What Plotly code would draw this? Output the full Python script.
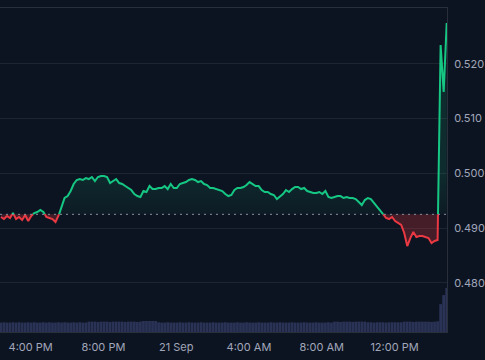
import plotly.graph_objects as go
import pandas as pd

# ---- data ----
start_time = "2023-09-20 14:22"
interval = "10min"

price = [
    0.49201, 0.49164, 0.49219, 0.49183, 0.49274, 0.49164, 0.49201, 0.49146, 0.49237, 0.49128,
    0.49219, 0.49274, 0.49292, 0.49329, 0.49292, 0.49201, 0.49183, 0.49164, 0.49110, 0.49219,
    0.49402, 0.49548, 0.49584, 0.49676, 0.49804, 0.49877, 0.49895, 0.49877, 0.49913, 0.49895,
    0.49932, 0.49858, 0.49932, 0.49950, 0.49950, 0.49932, 0.49822, 0.49858, 0.49895, 0.49822,
    0.49804, 0.49767, 0.49731, 0.49694, 0.49621, 0.49584, 0.49566, 0.49676, 0.49658, 0.49767,
    0.49712, 0.49712, 0.49731, 0.49731, 0.49767, 0.49712, 0.49804, 0.49731, 0.49731, 0.49804,
    0.49822, 0.49840, 0.49877, 0.49895, 0.49877, 0.49840, 0.49858, 0.49804, 0.49785, 0.49731,
    0.49731, 0.49712, 0.49694, 0.49676, 0.49621, 0.49584, 0.49603, 0.49694, 0.49731, 0.49731,
    0.49749, 0.49785, 0.49840, 0.49804, 0.49767, 0.49767, 0.49694, 0.49658, 0.49658, 0.49621,
    0.49603, 0.49530, 0.49584, 0.49621, 0.49694, 0.49658, 0.49712, 0.49749, 0.49749, 0.49712,
    0.49731, 0.49676, 0.49658, 0.49639, 0.49639, 0.49658, 0.49621, 0.49676, 0.49566, 0.49548,
    0.49566, 0.49584, 0.49584, 0.49548, 0.49566, 0.49548, 0.49548, 0.49530, 0.49475, 0.49420,
    0.49511, 0.49548, 0.49530, 0.49457, 0.49384, 0.49329, 0.49256, 0.49183, 0.49164, 0.49201,
    0.49128, 0.49091, 0.49055, 0.48909, 0.48671, 0.48817, 0.48927, 0.48836, 0.48854, 0.48854,
    0.48836, 0.48817, 0.48726, 0.48763, 0.48781, 0.52342, 0.51484, 0.52744,
]

volume = [
    29, 30, 29, 29, 30, 29, 30, 29, 29, 30,
    29, 30, 29, 29, 30, 29, 30, 29, 29, 30,
    29, 30, 29, 29, 30, 29, 30, 29, 29, 32,
    32, 32, 31, 32, 32, 32, 31, 32, 32, 32,
    32, 31, 32, 32, 32, 31, 32, 34, 34, 34,
    34, 34, 30, 29, 29, 30, 29, 29, 29, 30,
    29, 29, 30, 29, 29, 29, 30, 29, 29, 29,
    30, 29, 29, 29, 30, 29, 29, 29, 30, 29,
    29, 30, 29, 29, 29, 30, 29, 29, 29, 30,
    29, 29, 30, 29, 29, 29, 30, 29, 29, 29,
    30, 29, 29, 29, 30, 29, 29, 29, 30, 29,
    32, 32, 31, 32, 32, 32, 31, 32, 32, 32,
    32, 30, 30, 29, 30, 30, 30, 29, 30, 30,
    30, 30, 30, 32, 32, 32, 31, 32, 32, 32,
    32, 32, 31, 32, 33, 86, 114, 136,
]

baseline_price = 0.4925

x_tick_vals = ["2023-09-20 16:00", "2023-09-20 20:00", "2023-09-21 00:00",
               "2023-09-21 04:00", "2023-09-21 08:00", "2023-09-21 12:00"]
x_tick_text = ["4:00 PM", "8:00 PM", "21 Sep", "4:00 AM", "8:00 AM", "12:00 PM"]
y_tick_vals = [0.48, 0.49, 0.50, 0.51, 0.52]

# ---- styling ----
BG = "#0d1421"
GREEN = "#16c784"
RED = "#ea3943"
GRID = "#1f2431"
BORDER = "#2a2f3c"
TEXT = "#a1a7bb"
VOL = "#2a3356"

times = pd.date_range(start_time, periods=len(price), freq=interval)

# insert baseline crossings so colour switches exactly at the baseline
xs, ys = [], []
for k in range(len(price)):
    if k > 0:
        p0, p1 = price[k - 1], price[k]
        if (p0 - baseline_price) * (p1 - baseline_price) < 0:
            f = (baseline_price - p0) / (p1 - p0)
            xs.append(times[k - 1] + (times[k] - times[k - 1]) * f)
            ys.append(baseline_price)
    xs.append(times[k])
    ys.append(price[k])

green_line = [y if y >= baseline_price else None for y in ys]
red_line = [y if y <= baseline_price else None for y in ys]
green_fill = [max(y, baseline_price) for y in ys]
red_fill = [min(y, baseline_price) for y in ys]
base_arr = [baseline_price] * len(xs)

fig = go.Figure()

fig.add_trace(go.Bar(x=times, y=volume, marker=dict(color=VOL, line=dict(width=0)),
                     yaxis="y2", showlegend=False, hoverinfo="skip"))

fig.add_trace(go.Scatter(x=xs, y=base_arr, mode="lines", line=dict(width=0),
                         showlegend=False, hoverinfo="skip"))
fig.add_trace(go.Scatter(x=xs, y=green_fill, mode="lines", line=dict(width=0),
                         fill="tonexty",
                         fillgradient=dict(type="vertical", start=baseline_price, stop=0.5,
                                           colorscale=[[0, "rgba(22,199,132,0.04)"],
                                                       [1, "rgba(22,199,132,0.13)"]]),
                         showlegend=False, hoverinfo="skip"))
fig.add_trace(go.Scatter(x=xs, y=base_arr, mode="lines", line=dict(width=0),
                         showlegend=False, hoverinfo="skip"))
fig.add_trace(go.Scatter(x=xs, y=red_fill, mode="lines", line=dict(width=0),
                         fill="tonexty", fillcolor="rgba(234,57,67,0.25)",
                         showlegend=False, hoverinfo="skip"))

fig.add_trace(go.Scatter(x=xs, y=green_line, mode="lines", connectgaps=False,
                         line=dict(color=GREEN, width=2), showlegend=False))
fig.add_trace(go.Scatter(x=xs, y=red_line, mode="lines", connectgaps=False,
                         line=dict(color=RED, width=2), showlegend=False))

fig.add_shape(type="line", xref="paper", x0=0, x1=1, yref="y",
              y0=baseline_price, y1=baseline_price,
              line=dict(color="#8a90a0", width=1, dash="2px,4px"))

fig.update_layout(
    width=485, height=360,
    margin=dict(l=0, r=31, t=8, b=28),
    paper_bgcolor=BG, plot_bgcolor=BG,
    font=dict(family="Inter, sans-serif", size=11, color=TEXT),
    bargap=0.1,
    xaxis=dict(type="date", range=["2023-09-20 14:19", "2023-09-21 14:53"],
               tickvals=x_tick_vals, ticktext=x_tick_text,
               showgrid=False, zeroline=False, showline=True, mirror=True,
               linecolor=BORDER, linewidth=1, ticks="", ticklabelstandoff=5),
    yaxis=dict(side="right", range=[0.4710, 0.5302], tickvals=y_tick_vals,
               tickformat=".3f", showgrid=True, gridcolor=GRID, gridwidth=1,
               zeroline=False, showline=True, linecolor=BORDER, linewidth=1,
               ticks="", ticklabelstandoff=4),
    yaxis2=dict(overlaying="y", range=[0, 1000], visible=False),
)

fig.write_html("out.html", config={"displayModeBar": False},
               post_script="document.body.style.margin='0';document.body.style.background='#0d1421';")
